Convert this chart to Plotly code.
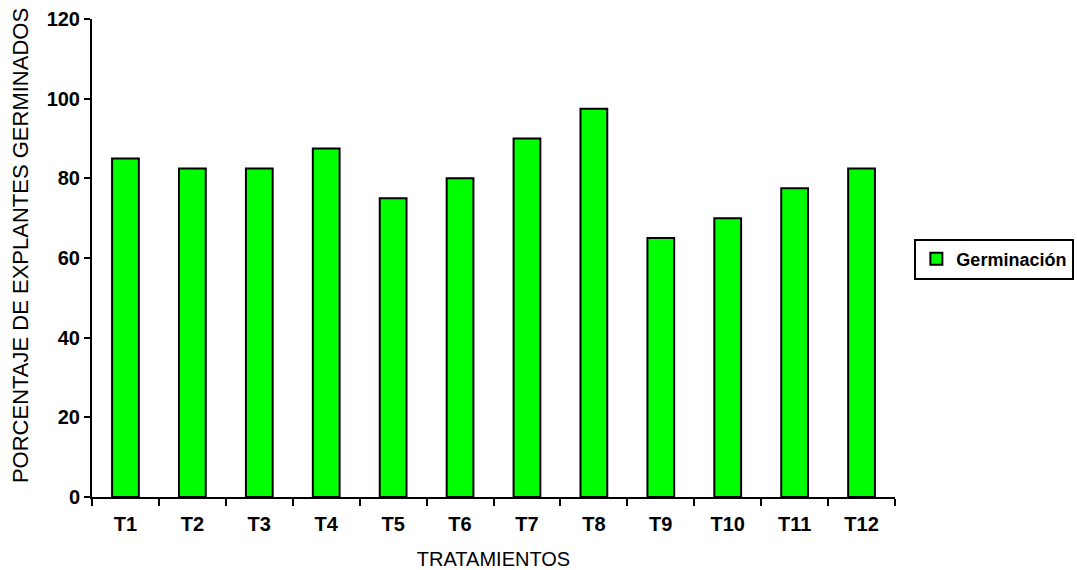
import plotly.graph_objects as go

tratamientos = ["T1", "T2", "T3", "T4", "T5", "T6", "T7", "T8", "T9", "T10", "T11", "T12"]
germinacion = [85, 82.5, 82.5, 87.5, 75, 80, 90, 97.5, 65, 70, 77.5, 82.5]
y_ticks = [0, 20, 40, 60, 80, 100, 120]

FONT = "Liberation Sans, Arial, sans-serif"

fig = go.Figure()
fig.add_trace(go.Bar(
    x=tratamientos,
    y=germinacion,
    name="Germinación",
    marker=dict(color="#00ff00", line=dict(color="#000000", width=2)),
    width=0.4,
))

# vertical axis title, placed as an annotation so it can sit off-centre
fig.add_annotation(
    text="PORCENTAJE DE EXPLANTES GERMINADOS",
    xref="paper", yref="paper",
    x=-0.0897, y=0.527,
    xanchor="center", yanchor="middle",
    textangle=-90, showarrow=False,
    font=dict(family=FONT, size=22, color="black"),
)

fig.update_layout(
    width=1077,
    height=570,
    margin=dict(l=92, r=182, t=19, b=73, autoexpand=False),
    plot_bgcolor="white",
    paper_bgcolor="white",
    font=dict(family=FONT, color="black", size=20),
    showlegend=True,
    legend=dict(
        xref="container", yref="container",
        x=0.849, y=0.5456, xanchor="left", yanchor="middle",
        bordercolor="black", borderwidth=2,
        font=dict(family=FONT, size=18, weight="bold"),
        itemwidth=30,
    ),
    xaxis=dict(
        title=dict(text="TRATAMIENTOS", font=dict(size=20), standoff=20),
        showline=True, linecolor="black", linewidth=2,
        ticks="outside", ticklen=7, tickwidth=2, tickcolor="black",
        tickson="boundaries",
        ticklabelstandoff=8,
        showgrid=False, automargin=False,
        tickfont=dict(size=20, weight="bold"),
    ),
    yaxis=dict(
        range=[0, 120],
        tickvals=y_ticks,
        showline=True, linecolor="black", linewidth=2,
        ticks="outside", ticklen=6, tickwidth=2, tickcolor="black",
        showgrid=False, zeroline=False, automargin=False,
        tickfont=dict(size=20, weight="bold"),
    ),
)

fig.write_html("out.html")
